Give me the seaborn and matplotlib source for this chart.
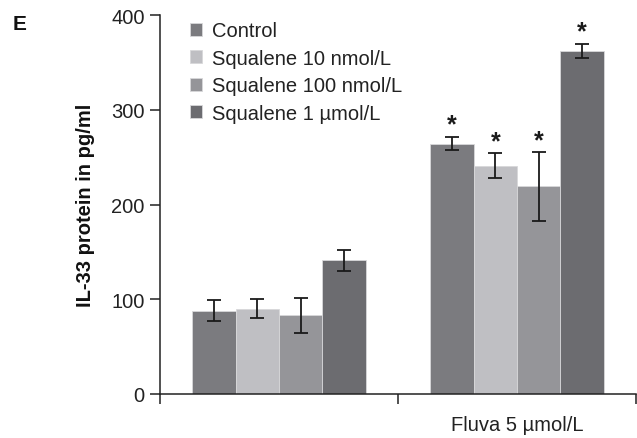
import matplotlib
matplotlib.use("Agg")
import matplotlib.pyplot as plt
import seaborn as sns
import pandas as pd
import numpy as np

# ---- data ----
groups = ["Baseline", "Fluva 5 µmol/L"]
group_labels = ["", "Fluva 5 µmol/L"]
treatments = ["Control", "Squalene 10 nmol/L", "Squalene 100 nmol/L", "Squalene 1 µmol/L"]
means_baseline = [88, 90, 83, 141]
errs_baseline = [11, 10, 18.5, 11.5]
means_fluva = [264, 241, 219, 362]
errs_fluva = [7, 13, 36, 7.7]
signif_fluva = [True, True, True, True]
colors = ["#7b7b7f", "#bfbfc3", "#959599", "#6c6c70"]

sns.set_theme(style="white")
plt.rcParams["font.family"] = ["Liberation Sans", "DejaVu Sans"]

rows = []
for t, m in zip(treatments, means_baseline):
    rows.append({"group": groups[0], "treatment": t, "value": m})
for t, m in zip(treatments, means_fluva):
    rows.append({"group": groups[1], "treatment": t, "value": m})
df = pd.DataFrame(rows)

fig = plt.figure(figsize=(6.37, 4.39), dpi=100)
ax = fig.add_axes([160/637, 1-395/439, 476/637, (395-16)/439])

sns.barplot(data=df, x="group", y="value", hue="treatment", order=groups,
            hue_order=treatments, palette=colors, width=0.73, errorbar=None,
            linewidth=0.6, edgecolor="#d8d8da", ax=ax, saturation=1)

errs = {groups[0]: errs_baseline, groups[1]: errs_fluva}
bar_containers = list(ax.containers)
for ti, cont in enumerate(bar_containers):
    for gi, bar in enumerate(cont.patches):
        g = groups[gi]
        x = bar.get_x() + bar.get_width() / 2
        y = bar.get_height()
        e = errs[g][ti]
        ax.errorbar(x, y, yerr=e, fmt="none", ecolor="#1a1a1a", elinewidth=1.3,
                    capsize=4.8, capthick=1.3, zorder=5)
        if gi == 1 and signif_fluva[ti]:
            ax.text(x, y + e + 0.5, "*", ha="center", va="bottom", fontsize=18,
                    fontweight="bold", color="#1a1a1a")

ax.set_ylim(0, 400)
ax.set_xlim(-0.5, 1.5)
ax.set_yticks([0, 100, 200, 300, 400])
ax.tick_params(axis="y", labelsize=14.5, length=7, width=1.1, direction="out",
               left=True, color="#222222", labelcolor="#222222", pad=4)
ax.set_xticks([-0.5, 0.5, 1.5])
ax.set_xticklabels([])
ax.tick_params(axis="x", which="major", length=7, width=1.1, direction="out",
               bottom=True, color="#222222")
ax.set_xticks([0, 1], minor=True)
ax.set_xticklabels(group_labels, minor=True)
ax.tick_params(axis="x", which="minor", length=0, labelsize=14.5, pad=15,
               labelcolor="#222222")

for s in ["top", "right"]:
    ax.spines[s].set_visible(False)
for s in ["left", "bottom"]:
    ax.spines[s].set_color("#222222")
    ax.spines[s].set_linewidth(1.1)

ax.set_xlabel("")
ax.set_ylabel("IL-33 protein in pg/ml", fontsize=14.5, fontweight="bold",
              color="#111111", labelpad=12)

leg = ax.legend(loc="upper left", bbox_to_anchor=(0.063, 0.983), frameon=False,
                fontsize=14.5, handlelength=0.6, handleheight=0.6,
                handletextpad=0.5, labelspacing=0.42, borderpad=0,
                borderaxespad=0)
for txt in leg.get_texts():
    txt.set_color("#222222")

fig.text(13/637, 1-24/439, "E", fontsize=15, fontweight="bold", ha="left",
         va="center", color="#111111")

fig.savefig("out.png", dpi=100)
